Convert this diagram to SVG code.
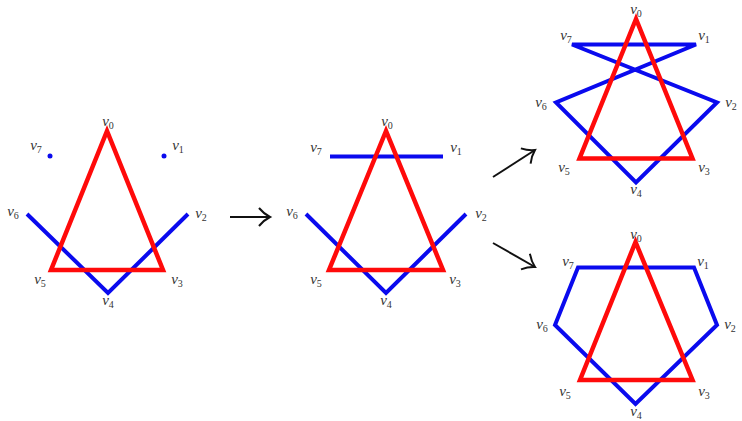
<svg xmlns="http://www.w3.org/2000/svg" width="742" height="421" viewBox="0 0 742 421">
<style>
.red{fill:none;stroke:#ff0a0a;stroke-width:4.5;stroke-linejoin:miter}
.blue{fill:none;stroke:#0a0aee;stroke-width:4;stroke-linejoin:miter;stroke-linecap:butt}
text.lb{font-family:'Liberation Serif','DejaVu Serif',serif;font-style:italic;font-size:15px;fill:#333;text-anchor:middle}
tspan.s{font-style:normal;font-size:10px}
.arr{fill:none;stroke:#111;stroke-width:2}
</style>
<defs>
<marker id="ah" markerWidth="16" markerHeight="20" refX="13" refY="10" orient="auto" markerUnits="userSpaceOnUse">
<path d="M2,1 Q7,7 13,10 Q7,13 2,19" fill="none" stroke="#111" stroke-width="2"/>
</marker>
</defs>
<rect width="742" height="421" fill="#fff"/>

<g id="fig1">
<polyline class="blue" points="27,214 108,293 188,214"/>
<circle cx="50" cy="156" r="2.5" fill="#0a0aee"/>
<circle cx="164" cy="156" r="2.5" fill="#0a0aee"/>
<polygon class="red" points="107,131 51,270 163,270"/>
<g id="f1-v0"><text class="lb" font-family="Liberation Serif, serif" x="108" y="126">v<tspan class="s" dy="3">0</tspan></text></g>
<g id="f1-v1"><text class="lb" font-family="Liberation Serif, serif" x="178" y="150">v<tspan class="s" dy="3">1</tspan></text></g>
<g id="f1-v2"><text class="lb" font-family="Liberation Serif, serif" x="201" y="218">v<tspan class="s" dy="3">2</tspan></text></g>
<g id="f1-v3"><text class="lb" font-family="Liberation Serif, serif" x="177" y="284">v<tspan class="s" dy="3">3</tspan></text></g>
<g id="f1-v4"><text class="lb" font-family="Liberation Serif, serif" x="108" y="305">v<tspan class="s" dy="3">4</tspan></text></g>
<g id="f1-v5"><text class="lb" font-family="Liberation Serif, serif" x="40" y="284">v<tspan class="s" dy="3">5</tspan></text></g>
<g id="f1-v6"><text class="lb" font-family="Liberation Serif, serif" x="13" y="216">v<tspan class="s" dy="3">6</tspan></text></g>
<g id="f1-v7"><text class="lb" font-family="Liberation Serif, serif" x="36" y="150">v<tspan class="s" dy="3">7</tspan></text></g>
</g>

<g id="fig2">
<polyline class="blue" points="306,214 386,293 466,214"/>
<line class="blue" x1="330" y1="156.5" x2="443" y2="156.5"/>
<polygon class="red" points="386,131 329,270 443,270"/>
<g id="f2-v0"><text class="lb" font-family="Liberation Serif, serif" x="387" y="126">v<tspan class="s" dy="3">0</tspan></text></g>
<g id="f2-v1"><text class="lb" font-family="Liberation Serif, serif" x="456" y="152">v<tspan class="s" dy="3">1</tspan></text></g>
<g id="f2-v2"><text class="lb" font-family="Liberation Serif, serif" x="481" y="218">v<tspan class="s" dy="3">2</tspan></text></g>
<g id="f2-v3"><text class="lb" font-family="Liberation Serif, serif" x="455" y="284">v<tspan class="s" dy="3">3</tspan></text></g>
<g id="f2-v4"><text class="lb" font-family="Liberation Serif, serif" x="386" y="305">v<tspan class="s" dy="3">4</tspan></text></g>
<g id="f2-v5"><text class="lb" font-family="Liberation Serif, serif" x="316" y="284">v<tspan class="s" dy="3">5</tspan></text></g>
<g id="f2-v6"><text class="lb" font-family="Liberation Serif, serif" x="292" y="216">v<tspan class="s" dy="3">6</tspan></text></g>
<g id="f2-v7"><text class="lb" font-family="Liberation Serif, serif" x="316" y="152">v<tspan class="s" dy="3">7</tspan></text></g>
</g>

<g id="fig3">
<polygon class="blue" points="572,44.5 696,44.5 556,102.5 636,182.5 717,102.5"/>
<polygon class="red" points="636,19 579.5,158.5 692.5,158.5"/>
<g id="f3-v0"><text class="lb" font-family="Liberation Serif, serif" x="636" y="14">v<tspan class="s" dy="3">0</tspan></text></g>
<g id="f3-v1"><text class="lb" font-family="Liberation Serif, serif" x="704" y="40">v<tspan class="s" dy="3">1</tspan></text></g>
<g id="f3-v2"><text class="lb" font-family="Liberation Serif, serif" x="731" y="107">v<tspan class="s" dy="3">2</tspan></text></g>
<g id="f3-v3"><text class="lb" font-family="Liberation Serif, serif" x="704" y="172">v<tspan class="s" dy="3">3</tspan></text></g>
<g id="f3-v4"><text class="lb" font-family="Liberation Serif, serif" x="636" y="194">v<tspan class="s" dy="3">4</tspan></text></g>
<g id="f3-v5"><text class="lb" font-family="Liberation Serif, serif" x="564" y="172">v<tspan class="s" dy="3">5</tspan></text></g>
<g id="f3-v6"><text class="lb" font-family="Liberation Serif, serif" x="541" y="107">v<tspan class="s" dy="3">6</tspan></text></g>
<g id="f3-v7"><text class="lb" font-family="Liberation Serif, serif" x="566" y="40">v<tspan class="s" dy="3">7</tspan></text></g>
</g>

<g id="fig4">
<polygon class="blue" points="578,267.5 694,267.5 717,325 635.5,404 555,325"/>
<polygon class="red" points="635.5,242 580,380 692.5,380"/>
<g id="f4-v0"><text class="lb" font-family="Liberation Serif, serif" x="636" y="239">v<tspan class="s" dy="3">0</tspan></text></g>
<g id="f4-v1"><text class="lb" font-family="Liberation Serif, serif" x="703" y="266">v<tspan class="s" dy="3">1</tspan></text></g>
<g id="f4-v2"><text class="lb" font-family="Liberation Serif, serif" x="730" y="329">v<tspan class="s" dy="3">2</tspan></text></g>
<g id="f4-v3"><text class="lb" font-family="Liberation Serif, serif" x="704" y="396">v<tspan class="s" dy="3">3</tspan></text></g>
<g id="f4-v4"><text class="lb" font-family="Liberation Serif, serif" x="636" y="416">v<tspan class="s" dy="3">4</tspan></text></g>
<g id="f4-v5"><text class="lb" font-family="Liberation Serif, serif" x="565" y="396">v<tspan class="s" dy="3">5</tspan></text></g>
<g id="f4-v6"><text class="lb" font-family="Liberation Serif, serif" x="542" y="329">v<tspan class="s" dy="3">6</tspan></text></g>
<g id="f4-v7"><text class="lb" font-family="Liberation Serif, serif" x="568" y="266">v<tspan class="s" dy="3">7</tspan></text></g>
</g>

<g id="connectors">
<line class="arr" x1="230" y1="217" x2="270" y2="217" marker-end="url(#ah)"/>
<line class="arr" x1="493" y1="177" x2="535" y2="150" marker-end="url(#ah)"/>
<line class="arr" x1="493" y1="243" x2="535" y2="267" marker-end="url(#ah)"/>
</g>
</svg>
